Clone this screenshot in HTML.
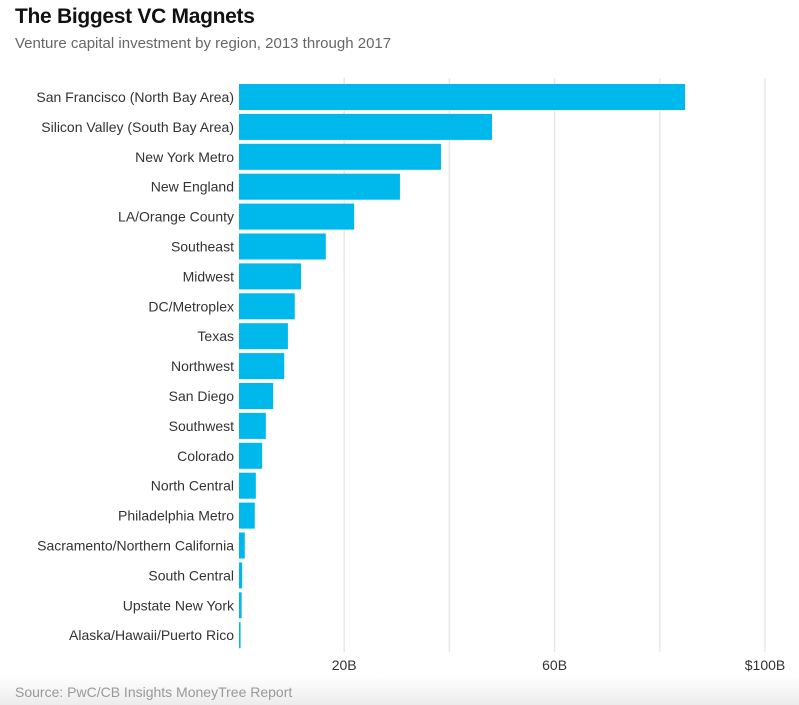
<!DOCTYPE html>
<html><head><meta charset="utf-8"><style>
body{margin:0;background:#fff;width:799px;height:705px;overflow:hidden;position:relative;font-family:"Liberation Sans",sans-serif}
#title{position:absolute;left:15px;top:5px;font-size:21px;font-weight:bold;color:#111;letter-spacing:-0.3px}
#subtitle{position:absolute;left:15px;top:35px;font-size:15px;color:#666}
#footer{position:absolute;left:0;top:676px;width:799px;height:29px;background:linear-gradient(#fff,#ececec)}
#source{position:absolute;left:15px;top:684px;font-size:14px;color:#999}
svg{position:absolute;left:0;top:0}
</style></head><body>
<div id="title">The Biggest VC Magnets</div>
<div id="subtitle">Venture capital investment by region, 2013 through 2017</div>
<div id="footer"></div>
<div id="source">Source: PwC/CB Insights MoneyTree Report</div>
<svg id="chart" width="799" height="705"></svg>
<script>
const categories=["San Francisco (North Bay Area)","Silicon Valley (South Bay Area)","New York Metro","New England","LA/Orange County","Southeast","Midwest","DC/Metroplex","Texas","Northwest","San Diego","Southwest","Colorado","North Central","Philadelphia Metro","Sacramento/Northern California","South Central","Upstate New York","Alaska/Hawaii/Puerto Rico"];
const values=[84.8,48.1,38.4,30.6,21.9,16.5,11.8,10.6,9.3,8.6,6.5,5.1,4.4,3.2,3.0,1.1,0.6,0.5,0.3];
const gridValues=[20,40,60,80,100];
const tickValues=[20,60,100];
const tickLabels=["20B","60B","$100B"];
const NS="http://www.w3.org/2000/svg";
const svg=document.getElementById('chart');
const x=v=>239+v*5.26;
const y=i=>84+i*29.9;
function mk(t,a){const e=document.createElementNS(NS,t);for(const k in a)e.setAttribute(k,a[k]);svg.appendChild(e);return e;}
gridValues.forEach(v=>{
  const l=mk('line',{x1:x(v),x2:x(v),y1:78,y2:652,stroke:'#e8e8e8','stroke-width':1.5});
  
  
});
tickValues.forEach((v,i)=>{
  const t=mk('text',{x:x(v),y:670,'text-anchor':'middle','font-size':14,fill:'#333'});
  t.textContent=tickLabels[i];
  
  
});
categories.forEach((c,i)=>{
  const t=mk('text',{x:234,y:y(i)+18,'text-anchor':'end','font-size':14,fill:'#333'});
  t.textContent=c;
  
  
  const r=mk('rect',{x:239,y:y(i),width:Math.max(1.5,x(values[i])-239),height:26,fill:'#00b9ec'});
  
  
});
</script>
</body></html>
